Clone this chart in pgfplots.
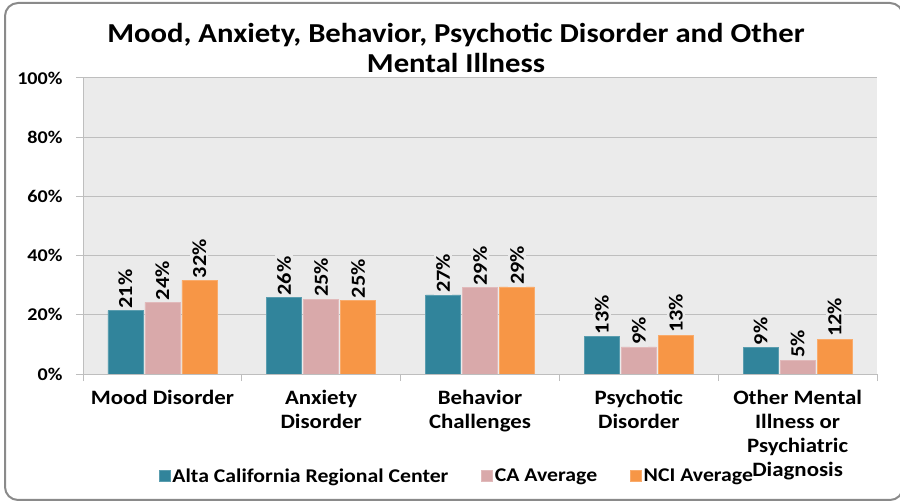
\documentclass[border=0pt]{standalone}
\usepackage{pgfplots}
\pgfplotsset{compat=1.18}
\usepackage{fontspec}
\setmainfont{Carlito}[FakeStretch=1.12]
\definecolor{cblue}{HTML}{31849B}
\definecolor{cpink}{HTML}{D9A9AA}
\definecolor{corange}{HTML}{F79646}
\definecolor{plotbg}{HTML}{EBEBEB}
\definecolor{gridc}{HTML}{BEBEBE}
\definecolor{framec}{HTML}{8A8A8A}
\pgfplotstableread{
x alta ca nci
0 21.4 24.2 31.6
1 25.8 25.3 24.9
2 26.7 29.2 29.4
3 12.7 9.2 13.1
4 9.0 4.7 11.8
}\datatable
\begin{document}
\begin{tikzpicture}
\useasboundingbox (0bp,0bp) rectangle (900bp,501bp);
\draw[framec, line width=2bp, rounded corners=13bp] (5bp,1bp) rectangle (903bp,498bp);
\node[font=\fontsize{27.5}{30}\selectfont\bfseries, align=center] at (456bp,453bp) {Mood, Anxiety, Behavior, Psychotic Disorder and Other\\Mental Illness};
\begin{axis}[
  at={(83bp,127bp)}, anchor=south west,
  width=794bp, height=296bp, scale only axis,
  ybar, bar width=35bp,
  ymin=0, ymax=100,
  xmin=-0.5, xmax=4.5,
  ytick={0,20,...,100},
  yticklabel={\pgfmathprintnumber{\tick}\%},
  /pgf/number format/assume math mode=true,
  xtick={0,...,4},
  xticklabels={Mood Disorder, Anxiety\\Disorder, Behavior\\Challenges, Psychotic\\Disorder, Other Mental\\Illness or\\Psychiatric\\Diagnosis},
  minor xtick={-0.5,0.5,...,4.5},
  major x tick style={draw=none},
  tick align=outside, tick pos=left,
  major tick length=7bp, minor tick length=7bp,
  every tick/.style={gridc, line width=1bp},
  axis x line*=bottom, axis y line*=left,
  axis line style={gridc, line width=1bp},
  axis background/.style={fill=plotbg},
  ymajorgrids, grid style={gridc, line width=1bp},
  xticklabel style={align=center, font=\fontsize{20.5}{24}\selectfont\bfseries, yshift=-6bp},
  yticklabel style={xshift=-10bp, font=\fontsize{18}{22}\selectfont\bfseries},
  nodes near coords={\pgfmathprintnumber[fixed,precision=0]{\pgfplotspointmeta}\%},
  nodes near coords style={rotate=90, anchor=west, fill=plotbg, inner sep=2pt, font=\fontsize{20}{20}\selectfont\bfseries},
  legend style={at={(0.471,-0.345)}, anchor=center, draw=none, fill=none, legend columns=3, font=\fontsize{19.5}{20}\selectfont\bfseries, /tikz/every even column/.append style={column sep=31bp}},
  legend image code/.code={\fill[#1] (0bp,-5bp) rectangle (11bp,6bp);},
  legend cell align=left,
]
\addplot[fill=cblue, draw=cblue!80!white, line width=0.5bp] table[x=x, y=alta] {\datatable};
\addplot[fill=cpink, draw=cpink!80!white, line width=0.5bp] table[x=x, y=ca] {\datatable};
\addplot[fill=corange, draw=corange!80!white, line width=0.5bp] table[x=x, y=nci] {\datatable};
\legend{Alta California Regional Center, CA Average, NCI Average}
\end{axis}
\end{tikzpicture}
\end{document}
